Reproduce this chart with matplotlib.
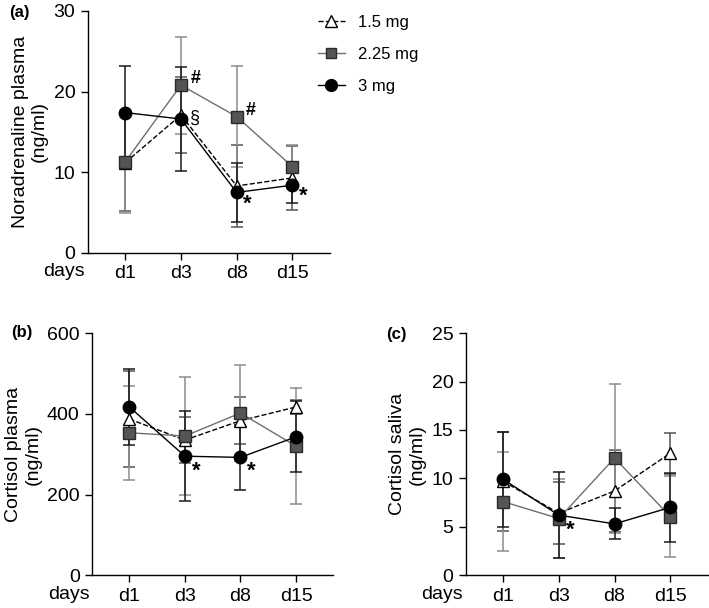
import matplotlib
matplotlib.use('Agg')
import matplotlib.pyplot as plt
from matplotlib.lines import Line2D

plt.rcParams['font.family'] = ['Liberation Sans', 'DejaVu Sans']

days = ['d1', 'd3', 'd8', 'd15']
doses = ['1.5 mg', '2.25 mg', '3 mg']

# (a) noradrenaline plasma, ng/ml
nor_15 = [11.2, 17.1, 8.3, 9.3]
nor_15_err = [6.0, 4.75, 5.1, 4.0]
nor_225 = [11.3, 20.8, 16.9, 10.7]
nor_225_err = [6.3, 6.0, 6.3, 2.7]
nor_3 = [17.4, 16.6, 7.5, 8.4]
nor_3_err = [5.8, 6.5, 3.7, 2.2]

# (b) cortisol plasma, ng/ml
cp_15 = [387, 335, 383, 417]
cp_15_err = [120, 56, 59, 17]
cp_225 = [353, 345, 402, 320]
cp_225_err = [116, 147, 119, 143]
cp_3 = [417, 295, 292, 343]
cp_3_err = [95, 112, 81, 88]

# (c) cortisol saliva, ng/ml
cs_15 = [9.7, 6.4, 8.7, 12.6]
cs_15_err = [5.1, 3.2, 4.2, 2.1]
cs_225 = [7.6, 5.85, 12.1, 6.05]
cs_225_err = [5.1, 4.1, 7.7, 4.2]
cs_3 = [9.9, 6.2, 5.3, 7.0]
cs_3_err = [4.9, 4.45, 1.6, 3.6]

x = list(range(len(days)))

styles = [
    dict(marker='^', ls='--', color='black', mfc='white', mec='black', ms=8.5, err='#555555'),
    dict(marker='s', ls='-', color='#6e6e6e', mfc='#555555', mec='#2a2a2a', ms=8, err='#8c8c8c'),
    dict(marker='o', ls='-', color='black', mfc='black', mec='black', ms=9, err='#1a1a1a'),
]


def panel(ax, series, ylim, yticks, ylabel):
    for (vals, errs), st in zip(series, styles):
        ax.errorbar(x, vals, yerr=errs, fmt='none', ecolor=st['err'],
                    elinewidth=1.1, capsize=4, capthick=1.1, zorder=2)
    for i, ((vals, errs), st) in enumerate(zip(series, styles)):
        ax.plot(x, vals, marker=st['marker'], ls=st['ls'], color=st['color'], lw=1.0,
                mfc=st['mfc'], mec=st['mec'], ms=st['ms'], mew=1.0, zorder=3 + i)
    ax.set_xlim(-0.67, 3.67)
    ax.set_ylim(*ylim)
    ax.set_yticks(yticks)
    ax.set_xticks(x)
    ax.set_xticklabels(days)
    ax.spines['top'].set_visible(False)
    ax.spines['right'].set_visible(False)
    for s in ['left', 'bottom']:
        ax.spines[s].set_linewidth(1.0)
    ax.tick_params(labelsize=14, length=5, width=1.0, pad=4)
    ax.set_ylabel(ylabel, fontsize=14, labelpad=4)
    ax.annotate('days', xy=(0, 0), xycoords='axes fraction', xytext=(-2, -(5 * 0.72 + 4)),
                textcoords='offset points', ha='right', va='top', fontsize=14)


fig = plt.figure(figsize=(7.09, 6.08), dpi=100)
ax_a = fig.add_axes([0.124, 0.584, 0.341, 0.398])
ax_b = fig.add_axes([0.130, 0.054, 0.340, 0.398])
ax_c = fig.add_axes([0.657, 0.054, 0.341, 0.398])

panel(ax_a, [(nor_15, nor_15_err), (nor_225, nor_225_err), (nor_3, nor_3_err)],
      (0, 30), [0, 10, 20, 30], 'Noradrenaline plasma\n(ng/ml)')
panel(ax_b, [(cp_15, cp_15_err), (cp_225, cp_225_err), (cp_3, cp_3_err)],
      (0, 600), [0, 200, 400, 600], 'Cortisol plasma\n(ng/ml)')
panel(ax_c, [(cs_15, cs_15_err), (cs_225, cs_225_err), (cs_3, cs_3_err)],
      (0, 25), [0, 5, 10, 15, 20, 25], 'Cortisol saliva\n(ng/ml)')

# panel tags
fig.text(9 / 709, 1 - 12 / 608, '(a)', fontsize=12, fontweight='bold', ha='left', va='center')
fig.text(11 / 709, 1 - 333 / 608, '(b)', fontsize=12, fontweight='bold', ha='left', va='center')
fig.text(386 / 709, 1 - 334 / 608, '(c)', fontsize=12, fontweight='bold', ha='left', va='center')

# significance marks
ax_a.text(1.17, 21.6, '#', fontsize=13, fontweight='bold', ha='left', va='center')
ax_a.text(2.17, 17.6, '#', fontsize=13, fontweight='bold', ha='left', va='center')
ax_a.text(1.17, 16.7, '§', fontsize=13, ha='left', va='center')
ax_a.text(2.12, 6.0, '*', fontsize=16, fontweight='bold', ha='left', va='center')
ax_a.text(3.12, 7.0, '*', fontsize=16, fontweight='bold', ha='left', va='center')
ax_b.text(1.12, 258, '*', fontsize=16, fontweight='bold', ha='left', va='center')
ax_b.text(2.12, 258, '*', fontsize=16, fontweight='bold', ha='left', va='center')
ax_c.text(1.12, 4.6, '*', fontsize=16, fontweight='bold', ha='left', va='center')

handles = [Line2D([], [], marker=st['marker'], ls=st['ls'], color=st['color'], lw=1.0,
                  mfc=st['mfc'], mec=st['mec'], ms=st['ms'] - 0.5) for st in styles]
fig.legend(handles, doses, loc='upper left', bbox_to_anchor=(318 / 709, 1 - 15 / 608),
           frameon=False, fontsize=12, handlelength=1.6, handletextpad=0.8,
           labelspacing=1.02, borderpad=0, borderaxespad=0)

fig.savefig('out.png', dpi=100)
